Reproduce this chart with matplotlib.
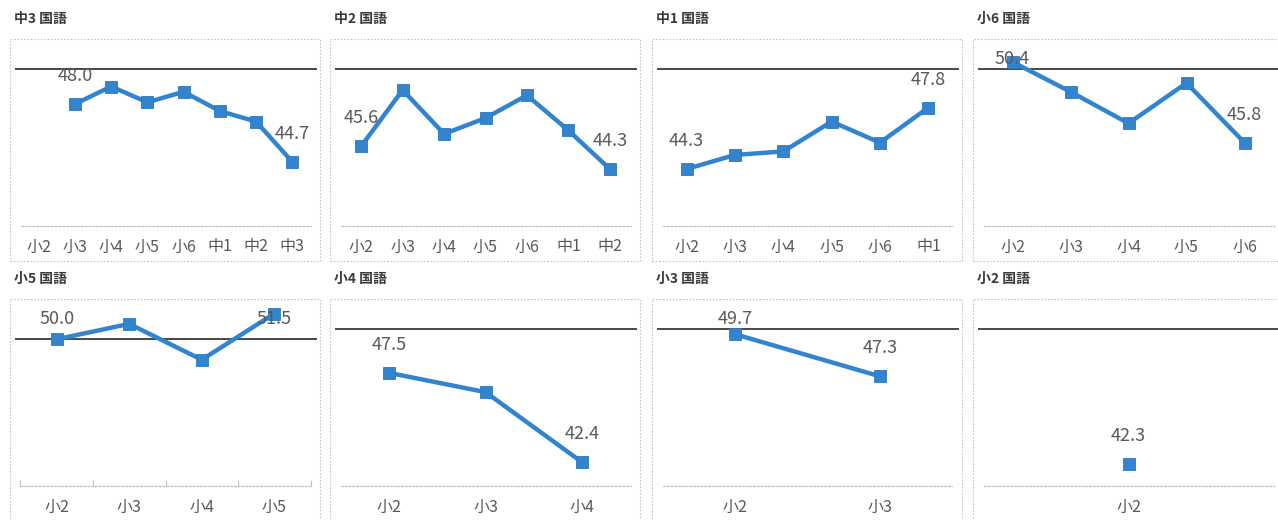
import numpy as np
import matplotlib
matplotlib.use("Agg")
import matplotlib.pyplot as plt
from matplotlib.patches import Rectangle
from matplotlib.transforms import blended_transform_factory

plt.rcParams['font.family'] = ['Noto Sans CJK JP', 'DejaVu Sans']

# grades and per-class 国語 scores (偏差値), one panel per class
grades = ['小2', '小3', '小4', '小5', '小6', '中1', '中2', '中3']
titles = ['中3 国語', '中2 国語', '中1 国語', '小6 国語',
          '小5 国語', '小4 国語', '小3 国語', '小2 国語']
scores = [
    [np.nan, 48.0, 49.0, 48.1, 48.7, 47.6, 47.0, 44.7],
    [45.6, 48.8, 46.3, 47.2, 48.5, 46.5, 44.3],
    [44.3, 45.1, 45.3, 47.0, 45.8, 47.8],
    [50.4, 48.7, 46.9, 49.2, 45.8],
    [50.0, 50.9, 48.8, 51.5],
    [47.5, 46.4, 42.4],
    [49.7, 47.3],
    [42.3],
]
ref_value = 50
y_low = [41.05, 41.05, 41.05, 41.05, 41.4, 41.05, 41.05, 41.05]
y_high = [51.65, 51.65, 51.65, 51.65, 52.3, 51.65, 51.65, 51.65]
boundary_ticks = [False, False, False, False, True, False, False, False]

BLUE = '#3384cf'
GRAY = '#595959'

W, H = 1278, 520
fig = plt.figure(figsize=(W / 100, H / 100), dpi=100)

box_left = [10, 330, 652, 973]
box_top = [39, 299]
box_w, box_h = 310, 222
ax_h = 186


def fx(px):
    return px / W


def fy(py):
    return 1 - py / H


for k in range(len(titles)):
    row, col = divmod(k, 4)
    bl, bt = box_left[col], box_top[row]
    vals = np.array(scores[k], dtype=float)
    n = len(vals)
    x = np.arange(n)

    # dotted chart frame + title
    fig.add_artist(Rectangle((fx(bl), fy(bt + box_h)), box_w / W, box_h / H,
                             transform=fig.transFigure, fill=False,
                             ec='#c4c4c4', lw=0.8, ls=(0, (1.5, 1.5))))
    fig.text(fx(bl + 4), fy(bt - 20), titles[k], fontsize=10, color='#3a3a3a',
             ha='left', va='center', fontweight='bold')

    ax = fig.add_axes([fx(bl + 5), fy(bt + 1 + ax_h), 302 / W, ax_h / H])
    u = 290 / n
    ax.set_xlim(-0.5 - 5.5 / u, n - 0.5 + 6.5 / u)
    ax.set_ylim(y_low[k], y_high[k])
    ax.patch.set_alpha(0)

    ax.axhline(ref_value, color='#3a3a3a', lw=1.3, zorder=2)
    ax.plot(x, vals, color=BLUE, lw=3.2, marker='s', ms=9,
            mfc=BLUE, mec='#2b78c2', mew=0.6, zorder=3)

    for s in ['left', 'right', 'top']:
        ax.spines[s].set_visible(False)
    ax.spines['bottom'].set_bounds(-0.5, n - 0.5)
    ax.spines['bottom'].set_color('#c0c0c0')
    ax.spines['bottom'].set_linestyle((0, (1.5, 1.5)))
    ax.spines['bottom'].set_linewidth(0.9)

    ax.set_yticks([])
    ax.set_xticks(x, grades[:n])
    ax.tick_params(axis='x', length=0, pad=9, labelsize=11.5, labelcolor=GRAY)
    if boundary_ticks[k]:
        ax.set_xticks(np.arange(n + 1) - 0.5, minor=True)
        ax.tick_params(axis='x', which='minor', length=4, direction='in',
                       color='#c0c0c0', width=0.8)

    # value labels on the first and last measured points
    valid = np.flatnonzero(~np.isnan(vals))
    trans = blended_transform_factory(ax.transData, ax.transAxes)
    for i in sorted({valid[0], valid[-1]}):
        pt = ax.transLimits.transform((i, vals[i]))[1]
        ly = min(pt + 28 / ax_h, 1 - 19 / ax_h)
        ax.text(i, ly, f'{vals[i]:.1f}', transform=trans, ha='center',
                va='center', fontsize=13, color=GRAY, zorder=4)

fig.savefig('out.png', dpi=100)
